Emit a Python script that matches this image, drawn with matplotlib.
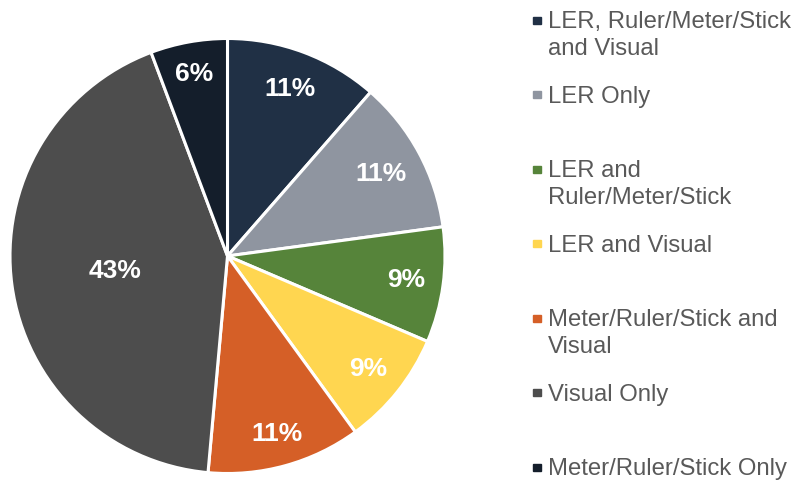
import numpy as np
import matplotlib
matplotlib.use('Agg')
import matplotlib.pyplot as plt

plt.rcParams['font.family'] = ['Liberation Sans', 'DejaVu Sans']

# Dados do gráfico (contagens; rótulos em %)
categorias = ['LER, Ruler/Meter/Stick\nand Visual', 'LER Only', 'LER and\nRuler/Meter/Stick',
              'LER and Visual', 'Meter/Ruler/Stick and\nVisual', 'Visual Only', 'Meter/Ruler/Stick Only']
contagens = [4, 4, 3, 3, 4, 15, 2]
cores = ['#203045', '#8F95A0', '#56843A', '#FFD650', '#D55F27', '#4D4D4D', '#141E2B']
dist_rotulo = [0.82, 0.80, 0.83, 0.83, 0.85, 0.52, 0.85]  # distância do rótulo ao centro

W, H = 798, 483
fig = plt.figure(figsize=(W / 100, H / 100), dpi=100)

# Pizza: centro (227.5, 256) px, raio 217.5 px
cx, cy, r = 227.5, 256, 217.5
ax = fig.add_axes([(cx - r) / W, (H - cy - r) / H, 2 * r / W, 2 * r / H])
wedges, _ = ax.pie(contagens, colors=cores, startangle=90, counterclock=False, radius=1,
                   wedgeprops=dict(edgecolor='white', linewidth=2.2))
ax.set_xlim(-1, 1)
ax.set_ylim(-1, 1)
ax.axis('off')

total = sum(contagens)
for w, n, d in zip(wedges, contagens, dist_rotulo):
    ang = np.deg2rad((w.theta1 + w.theta2) / 2)
    ax.text(d * np.cos(ang), d * np.sin(ang), '{:.0f}%'.format(100 * n / total),
            ha='center', va='center', color='white', fontsize=19, fontweight='bold')

# Legenda manual (linha de base em px a partir do topo)
y0, passo, entrelinha = 28.3, 74.5, 27
for i, (cat, cor) in enumerate(zip(categorias, cores)):
    y = y0 + passo * i
    fig.patches.append(plt.Rectangle(((537 - 3.6) / W, 1 - (y - 8 + 3.6) / H), 7.2 / W, 7.2 / H,
                                     transform=fig.transFigure, color=cor))
    for j, linha in enumerate(cat.split('\n')):
        fig.text(548 / W, 1 - (y + j * entrelinha) / H, linha, ha='left', va='baseline',
                 color='#595959', fontsize=17.2)

fig.savefig('out.png', dpi=100)
